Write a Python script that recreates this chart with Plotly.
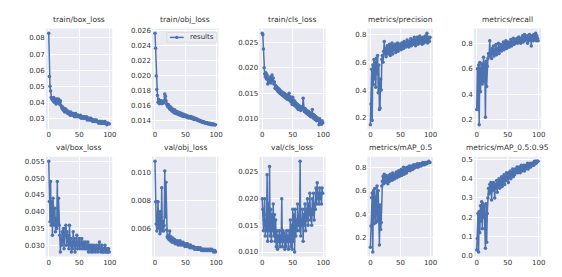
import plotly.graph_objects as go

epochs = list(range(100))

titles = ["train/box_loss", "train/obj_loss", "train/cls_loss", "metrics/precision", "metrics/recall",
          "val/box_loss", "val/obj_loss", "val/cls_loss", "metrics/mAP_0.5", "metrics/mAP_0.5:0.95"]
legend_label = "results"

train_box = [0.083,0.056,0.050,0.047,0.043,0.042,0.042,0.041,0.043,0.040,0.042,0.041,0.039,0.042,0.040,0.041,0.042,0.039,0.040,0.041,
0.038,0.037,0.036,0.037,0.035,0.036,0.034,0.036,0.035,0.034,
0.035,0.033,0.034,0.034,0.033,0.032,0.034,0.033,0.032,0.033,
0.032,0.033,0.031,0.032,0.033,0.031,0.032,0.032,0.031,0.032,
0.031,0.031,0.032,0.030,0.031,0.031,0.030,0.031,0.030,0.031,
0.030,0.030,0.031,0.029,0.030,0.030,0.029,0.030,0.029,0.030,
0.029,0.029,0.028,0.029,0.029,0.028,0.029,0.028,0.029,0.028,
0.028,0.028,0.027,0.028,0.028,0.027,0.028,0.027,0.028,0.027,
0.027,0.027,0.028,0.027,0.027,0.026,0.027,0.027,0.027,0.0265]

train_obj = [0.0256,0.0236,0.0199,0.0181,0.0173,0.0164,0.0168,0.0162,0.0165,0.0163,
0.0166,0.0162,0.0165,0.0164,0.0163,0.0166,0.0175,0.0172,0.0166,0.0162,
0.0160,0.0158,0.0161,0.0157,0.0155,0.0158,0.0154,0.0156,0.0152,0.0155,
0.0153,0.0150,0.0154,0.0151,0.0149,0.0152,0.0150,0.0148,0.0151,0.0149,
0.0147,0.0150,0.0148,0.0146,0.0149,0.0147,0.0145,0.0148,0.0146,0.0145,
0.0147,0.0145,0.0144,0.0146,0.0145,0.0143,0.0145,0.0144,0.0143,0.0145,
0.0143,0.0142,0.0144,0.0142,0.0141,0.0143,0.0142,0.0141,0.0142,0.0140,
0.0141,0.0140,0.0139,0.0140,0.0139,0.0138,0.0139,0.0138,0.0137,0.0138,
0.0138,0.0137,0.0136,0.0137,0.0136,0.0137,0.0136,0.0135,0.0136,0.0135,
0.0136,0.0135,0.0134,0.0135,0.0135,0.0134,0.0135,0.0134,0.0134,0.0134]

train_cls = [0.0268,0.0265,0.0237,0.0200,0.0188,0.0182,0.0190,0.0178,0.0186,0.0168,
0.0180,0.0172,0.0176,0.0182,0.0170,0.0178,0.0186,0.0174,0.0180,0.0168,
0.0172,0.0160,0.0165,0.0158,0.0162,0.0155,0.0160,0.0152,0.0158,0.0150,
0.0155,0.0148,0.0153,0.0146,0.0151,0.0144,0.0150,0.0142,0.0148,0.0140,
0.0146,0.0138,0.0145,0.0137,0.0150,0.0136,0.0143,0.0133,0.0140,0.0128,
0.0142,0.0130,0.0136,0.0126,0.0133,0.0124,0.0130,0.0121,0.0128,0.0118,
0.0126,0.0120,0.0124,0.0116,0.0122,0.0119,0.0124,0.0140,0.0118,0.0114,
0.0120,0.0112,0.0117,0.0110,0.0115,0.0108,0.0114,0.0106,0.0112,0.0104,
0.0110,0.0106,0.0118,0.0102,0.0108,0.0100,0.0106,0.0098,0.0104,0.0096,
0.0102,0.0099,0.0097,0.0088,0.0100,0.0090,0.0094,0.0089,0.0096,0.0092]

precision = [0.15,0.30,0.55,0.18,0.58,0.44,0.62,0.48,0.60,0.42,
0.63,0.52,0.65,0.38,0.58,0.26,0.27,0.48,0.40,0.62,
0.65,0.60,0.68,0.75,0.66,0.70,0.64,0.69,0.72,0.66,
0.70,0.67,0.73,0.65,0.71,0.68,0.74,0.66,0.72,0.69,
0.70,0.73,0.67,0.72,0.69,0.74,0.68,0.71,0.73,0.70,
0.72,0.69,0.74,0.71,0.73,0.70,0.75,0.72,0.74,0.71,
0.73,0.76,0.72,0.74,0.71,0.75,0.73,0.77,0.72,0.75,
0.74,0.76,0.73,0.78,0.75,0.72,0.76,0.74,0.78,0.73,
0.76,0.75,0.79,0.74,0.77,0.75,0.73,0.78,0.76,0.74,
0.77,0.79,0.75,0.76,0.81,0.74,0.78,0.76,0.75,0.78]

recall = [0.28,0.60,0.28,0.63,0.16,0.65,0.42,0.60,0.64,0.48,
0.56,0.69,0.50,0.64,0.22,0.66,0.46,0.62,0.68,0.72,
0.70,0.82,0.70,0.74,0.68,0.76,0.72,0.78,0.70,0.75,
0.73,0.79,0.71,0.76,0.74,0.80,0.72,0.77,0.75,0.79,
0.74,0.78,0.76,0.81,0.75,0.79,0.77,0.82,0.76,0.80,
0.78,0.81,0.77,0.80,0.79,0.83,0.78,0.81,0.80,0.84,
0.79,0.82,0.80,0.83,0.81,0.84,0.80,0.82,0.85,0.81,
0.83,0.80,0.84,0.82,0.86,0.81,0.84,0.87,0.82,0.85,
0.83,0.86,0.80,0.84,0.82,0.87,0.83,0.85,0.78,0.86,
0.84,0.82,0.87,0.83,0.85,0.88,0.82,0.86,0.84,0.82]

val_box = [0.055,0.043,0.037,0.049,0.036,0.043,0.033,0.044,0.040,0.036,
0.041,0.034,0.038,0.035,0.049,0.036,0.044,0.036,0.033,0.028,
0.032,0.030,0.034,0.031,0.035,0.029,0.033,0.035,0.036,0.030,
0.034,0.031,0.033,0.029,0.036,0.030,0.032,0.028,0.031,0.029,
0.034,0.030,0.032,0.028,0.031,0.030,0.033,0.029,0.031,0.030,
0.032,0.029,0.031,0.030,0.032,0.029,0.030,0.031,0.029,0.030,
0.031,0.029,0.030,0.029,0.031,0.028,0.030,0.029,0.030,0.028,
0.029,0.030,0.028,0.029,0.030,0.029,0.028,0.029,0.030,0.029,
0.028,0.029,0.030,0.031,0.029,0.028,0.029,0.030,0.028,0.029,
0.028,0.029,0.030,0.028,0.029,0.028,0.029,0.028,0.029,0.028]

val_obj = [0.0108,0.0079,0.0063,0.0058,0.0079,0.0079,0.0060,0.0071,0.0056,0.0072,
0.0058,0.0089,0.0060,0.0065,0.0058,0.0062,0.0101,0.0068,0.0093,0.0059,
0.0054,0.0053,0.0055,0.0052,0.0058,0.0051,0.0054,0.0052,0.0050,0.0053,
0.0051,0.0050,0.0052,0.0049,0.0051,0.0050,0.0049,0.0051,0.0048,0.0050,
0.0049,0.0051,0.0048,0.0050,0.0049,0.0048,0.0050,0.0049,0.0048,0.0047,
0.0049,0.0048,0.0047,0.0049,0.0047,0.0048,0.0047,0.0046,0.0048,0.0047,
0.0046,0.0047,0.0046,0.0047,0.0046,0.0045,0.0046,0.0046,0.0045,0.0046,
0.0045,0.0046,0.0045,0.0045,0.0046,0.0045,0.0044,0.0045,0.0045,0.0044,
0.0045,0.0044,0.0045,0.0044,0.0044,0.0045,0.0044,0.0044,0.0045,0.0044,
0.0045,0.0044,0.0044,0.0045,0.0044,0.0044,0.0043,0.0044,0.0044,0.0043]

val_cls = [0.020,0.018,0.014,0.017,0.020,0.013,0.016,0.014,0.0245,0.012,
0.019,0.014,0.026,0.013,0.018,0.012,0.017,0.014,0.019,0.013,
0.017,0.012,0.016,0.011,0.014,0.0105,0.013,0.012,0.014,0.011,
0.013,0.012,0.020,0.011,0.014,0.012,0.0135,0.0105,0.013,0.011,
0.014,0.012,0.013,0.0105,0.014,0.012,0.016,0.011,0.015,0.0105,
0.018,0.012,0.017,0.010,0.018,0.013,0.016,0.014,0.019,0.015,
0.017,0.014,0.027,0.013,0.016,0.015,0.018,0.012,0.017,0.015,
0.019,0.014,0.018,0.016,0.020,0.015,0.019,0.017,0.021,0.016,
0.018,0.015,0.020,0.017,0.021,0.016,0.019,0.018,0.022,0.019,
0.023,0.020,0.021,0.019,0.022,0.020,0.021,0.019,0.022,0.021]

map50 = [0.12,0.30,0.54,0.58,0.08,0.60,0.32,0.62,0.45,0.33,
0.55,0.64,0.35,0.60,0.34,0.14,0.48,0.27,0.33,0.64,
0.68,0.72,0.66,0.74,0.70,0.67,0.73,0.69,0.72,0.66,
0.71,0.73,0.68,0.74,0.70,0.72,0.69,0.75,0.71,0.73,
0.70,0.74,0.72,0.76,0.71,0.75,0.73,0.77,0.72,0.76,
0.74,0.78,0.73,0.77,0.75,0.80,0.74,0.78,0.76,0.79,
0.75,0.80,0.77,0.79,0.78,0.81,0.77,0.80,0.79,0.81,
0.78,0.80,0.82,0.79,0.81,0.80,0.82,0.81,0.83,0.80,
0.82,0.81,0.83,0.82,0.81,0.83,0.82,0.84,0.82,0.83,
0.82,0.84,0.83,0.84,0.83,0.84,0.84,0.85,0.84,0.84]

map5095 = [0.03,0.09,0.22,0.02,0.23,0.12,0.26,0.18,0.28,0.14,
0.27,0.20,0.26,0.14,0.04,0.27,0.07,0.22,0.30,0.35,
0.32,0.37,0.33,0.38,0.29,0.37,0.34,0.38,0.36,0.30,
0.37,0.35,0.39,0.33,0.38,0.36,0.40,0.35,0.39,0.37,
0.41,0.36,0.40,0.38,0.42,0.37,0.41,0.39,0.43,0.40,
0.42,0.38,0.43,0.41,0.44,0.40,0.43,0.42,0.45,0.41,
0.44,0.42,0.45,0.43,0.44,0.46,0.43,0.45,0.44,0.46,
0.43,0.45,0.47,0.44,0.46,0.45,0.47,0.44,0.46,0.45,
0.47,0.46,0.48,0.45,0.47,0.46,0.48,0.46,0.47,0.48,
0.47,0.48,0.47,0.49,0.48,0.49,0.48,0.49,0.49,0.49]

series = [train_box, train_obj, train_cls, precision, recall,
          val_box, val_obj, val_cls, map50, map5095]
ytick_vals = [
    [0.03, 0.04, 0.05, 0.06, 0.07, 0.08],
    [0.014, 0.016, 0.018, 0.020, 0.022, 0.024, 0.026],
    [0.010, 0.015, 0.020, 0.025],
    [0.2, 0.4, 0.6, 0.8],
    [0.2, 0.4, 0.6, 0.8],
    [0.030, 0.035, 0.040, 0.045, 0.050, 0.055],
    [0.006, 0.008, 0.010],
    [0.010, 0.015, 0.020, 0.025],
    [0.2, 0.4, 0.6, 0.8],
    [0.0, 0.1, 0.2, 0.3, 0.4, 0.5],
]
ytick_fmt = [".2f", ".3f", ".3f", ".1f", ".1f", ".3f", ".3f", ".3f", ".1f", ".1f"]
xtick_vals = [0, 50, 100]

W, H = 562, 277
col_px = [(38, 105), (145, 212), (253, 320), (362, 428), (469, 537)]
row_px = [(19, 122), (150, 252)]

LINE = "#4C72B0"
BG = "#EAEAF2"
TXT = "#333333"
FONT = "DejaVu Sans"

fig = go.Figure()
layout = dict(
    width=W, height=H, margin=dict(l=0, r=0, t=0, b=0),
    paper_bgcolor="white", plot_bgcolor=BG,
    font=dict(family=FONT, size=7, color=TXT),
    showlegend=False,
)
annotations = []
shapes = []
xmin, xmax = epochs[0], epochs[-1]
xr = [xmin - 0.05 * (xmax - xmin), xmax + 0.05 * (xmax - xmin)]

for i, ys in enumerate(series):
    r, c = divmod(i, 5)
    x0, x1 = col_px[c]
    y0, y1 = row_px[r]
    sfx = "" if i == 0 else str(i + 1)
    ax = "x" + sfx
    ay = "y" + sfx
    fig.add_trace(go.Scatter(
        x=epochs, y=ys, mode="lines+markers", name=legend_label,
        line=dict(color=LINE, width=1.5), marker=dict(color=LINE, size=3.5),
        xaxis=ax, yaxis=ay,
    ))
    lo, hi = min(ys), max(ys)
    span = hi - lo
    layout["xaxis" + sfx] = dict(
        domain=[x0 / W, x1 / W], anchor=ay, range=xr,
        tickvals=xtick_vals, showgrid=True, gridcolor="white", gridwidth=0.8,
        zeroline=False, showline=False, ticks="", tickfont=dict(size=7, color=TXT),
    )
    layout["yaxis" + sfx] = dict(
        domain=[1 - y1 / H, 1 - y0 / H], anchor=ax,
        range=[lo - 0.05 * span, hi + 0.05 * span],
        tickvals=ytick_vals[i], tickformat=ytick_fmt[i],
        showgrid=True, gridcolor="white", gridwidth=0.8,
        zeroline=False, showline=False, ticks="", tickfont=dict(size=7, color=TXT),
    )
    annotations.append(dict(
        text=titles[i], x=(x0 + x1) / 2 / W, y=1 - (y0 - 3) / H,
        xref="paper", yref="paper", xanchor="center", yanchor="bottom",
        showarrow=False, font=dict(size=7.5, color=TXT, family=FONT),
    ))

# compact matplotlib-style legend box inside the train/obj_loss panel
lx0, lx1, ly0, ly1 = 160, 210, 23, 33
ymid = (ly0 + ly1) / 2
def px(x):
    return x / W
def py(y):
    return 1 - y / H
shapes.append(dict(type="rect", xref="paper", yref="paper",
                   x0=px(lx0), x1=px(lx1), y0=py(ly1), y1=py(ly0),
                   fillcolor="rgba(236,236,243,0.9)", line=dict(color="#D4D4DC", width=0.6)))
shapes.append(dict(type="line", xref="paper", yref="paper",
                   x0=px(lx0 + 3), x1=px(lx0 + 17), y0=py(ymid), y1=py(ymid),
                   line=dict(color=LINE, width=1.5)))
shapes.append(dict(type="circle", xref="paper", yref="paper",
                   x0=px(lx0 + 10 - 1.6), x1=px(lx0 + 10 + 1.6),
                   y0=py(ymid + 1.6), y1=py(ymid - 1.6),
                   fillcolor=LINE, line=dict(color=LINE, width=0)))
annotations.append(dict(
    text=legend_label, x=px(lx0 + 21), y=py(ymid), xref="paper", yref="paper",
    xanchor="left", yanchor="middle", showarrow=False,
    font=dict(size=7, color=TXT, family=FONT),
))

layout["annotations"] = annotations
layout["shapes"] = shapes
fig.update_layout(**layout)
fig.write_html("out.html")
